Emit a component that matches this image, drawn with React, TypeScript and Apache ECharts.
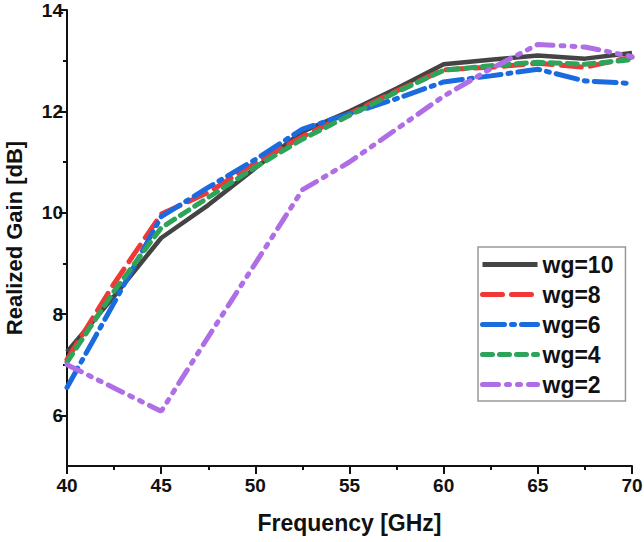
import React, { useEffect, useRef } from "react";
import * as echarts from "echarts";

const freq = [40, 42.5, 45, 47.5, 50, 52.5, 55, 57.5, 60, 62.5, 65, 67.5, 70];
const wg10 = [7.25, 8.35, 9.5, 10.15, 10.88, 11.6, 12.0, 12.45, 12.93, 13.02, 13.1, 13.04, 13.15];
const wg8 = [7.1, 8.6, 9.97, 10.4, 10.98, 11.5, 11.95, 12.4, 12.82, 12.87, 12.95, 12.87, 13.07];
const wg6 = [6.55, 8.22, 9.92, 10.5, 11.05, 11.65, 11.95, 12.25, 12.58, 12.7, 12.83, 12.6, 12.55];
const wg4 = [7.05, 8.45, 9.7, 10.3, 10.9, 11.45, 11.92, 12.38, 12.81, 12.9, 12.97, 12.93, 13.02];
const wg2 = [7.0, 6.54, 6.08, 7.55, 9.0, 10.45, 11.0, 11.65, 12.3, 12.84, 13.32, 13.27, 13.08];

const seriesNames = ["wg=10", "wg=8", "wg=6", "wg=4", "wg=2"];
const seriesValues = [wg10, wg8, wg6, wg4, wg2];
const colors = ["#444444", "#f03838", "#1a6ae0", "#2ea35a", "#b06ee6"];
const dashes: any[] = ["solid", [20, 9], [22, 7, 3, 7], [10, 7], [16, 8, 3, 8, 3, 8]];

const yMajorTicks = [6, 8, 10, 12, 14];
const yMinorTicks = [7, 9, 11, 13];

const FONT = "'Liberation Sans', Arial, sans-serif";

export default function App() {
  const ref = useRef<HTMLDivElement>(null);
  useEffect(() => {
    document.body.style.margin = "0";
    const chart = echarts.init(ref.current!, null, { renderer: "svg" });
    const axisLine = { show: true, lineStyle: { color: "#111", width: 2 } };
    chart.setOption({
      animation: false,
      backgroundColor: "#fff",
      grid: { left: 67, right: 12, top: 10, bottom: 76, containLabel: false, outerBoundsMode: "none" },
      legend: {
        orient: "vertical",
        left: 478,
        top: 247,
        data: seriesNames,
        itemWidth: 55,
        itemHeight: 20,
        itemGap: 7,
        padding: [6, 12, 5, 2],
        borderColor: "#999",
        borderWidth: 1.5,
        itemStyle: { opacity: 0 },
        lineStyle: { width: 5 },
        textStyle: { fontFamily: FONT, fontWeight: "bold", fontSize: 23, color: "#111", lineHeight: 20 },
      },
      xAxis: {
        type: "value",
        min: 40,
        max: 70,
        interval: 5,
        axisLine,
        axisTick: { show: true, length: 8, inside: false, lineStyle: { color: "#111", width: 2 } },
        minorTick: { show: true, splitNumber: 2, length: 4, lineStyle: { color: "#111", width: 2 } },
        splitLine: { show: false },
        axisLabel: { fontFamily: FONT, fontWeight: "bold", fontSize: 19, color: "#111", margin: 10 },
        name: "Frequency [GHz]",
        nameLocation: "middle",
        nameGap: 45,
        nameTextStyle: { fontFamily: FONT, fontWeight: "bold", fontSize: 23, color: "#111" },
      },
      yAxis: [
        {
          type: "value",
          min: 5,
          max: 14,
          interval: 1,
          axisLine,
          axisTick: { show: true, length: 8, customValues: yMajorTicks, lineStyle: { color: "#111", width: 2 } },
          splitLine: { show: false },
          axisLabel: { fontFamily: FONT, fontWeight: "bold", fontSize: 19, color: "#111", margin: 4, customValues: yMajorTicks },
          name: "Realized Gain [dB]",
          nameLocation: "middle",
          nameGap: 42,
          nameTextStyle: { fontFamily: FONT, fontWeight: "bold", fontSize: 22, color: "#111" },
        },
        {
          type: "value",
          min: 5,
          max: 14,
          interval: 1,
          position: "left",
          axisLine: { show: false },
          axisTick: { show: true, length: 4, customValues: yMinorTicks, lineStyle: { color: "#111", width: 2 } },
          axisLabel: { show: false },
          splitLine: { show: false },
        },
      ],
      series: seriesNames.map((name, i) => ({
        name,
        type: "line",
        symbol: "none",
        yAxisIndex: 0,
        data: freq.map((f, j) => [f, seriesValues[i][j]]),
        itemStyle: { color: colors[i] },
        lineStyle: { color: colors[i], width: i === 0 ? 4.5 : 5, type: dashes[i], cap: i === 0 ? "butt" : "round" },
      })),
    });
    return () => chart.dispose();
  }, []);
  return <div ref={ref} style={{ width: 644, height: 542 }} />;
}
